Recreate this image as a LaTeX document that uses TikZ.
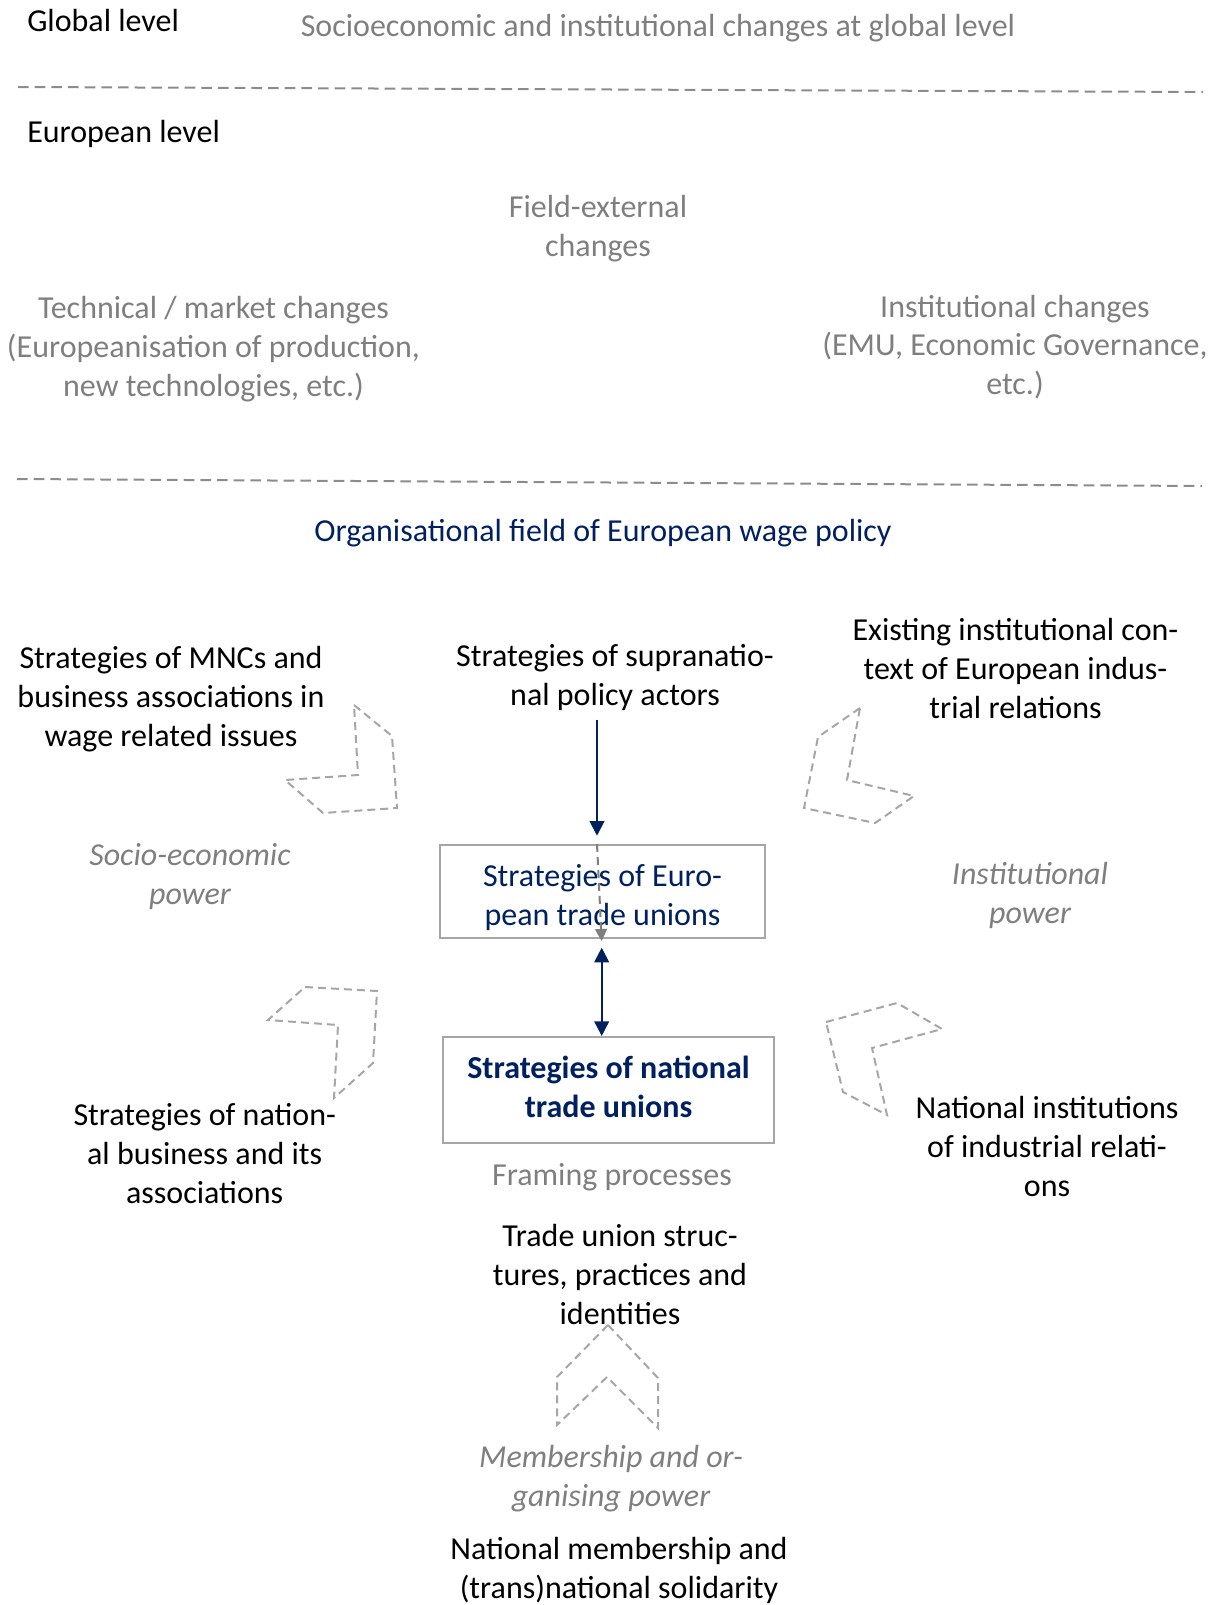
\documentclass[tikz,border=0pt]{standalone}
\usepackage{fontspec}
\setmainfont{Carlito}
\usepackage{tikz}
\usetikzlibrary{calc,positioning,arrows.meta}

\definecolor{navy}{HTML}{002060}
\definecolor{txtgray}{HTML}{7F7F7F}
\definecolor{linegray}{HTML}{A6A6A6}
\definecolor{rulegray}{HTML}{8C8C8C}

\newcommand{\labelfont}{\fontsize{24}{29.2}\selectfont}

\begin{document}
\begin{tikzpicture}[x=0.75pt, y=-0.75pt,
    lbl/.style={inner sep=0pt, align=center, font=\labelfont,
        execute at begin node=\strut, execute at end node=\strut},
    lvl/.style={lbl, anchor=west, text=black},
    ext/.style={lbl, text=txtgray, yshift=-3.75pt},
    actor/.style={lbl, text=black, yshift=-3.75pt},
    power/.style={lbl, text=txtgray, font=\labelfont\itshape, yshift=-3.75pt},
    tubox/.style={lbl, draw=linegray, line width=1.5pt, text=navy},
    rule/.style={draw=rulegray, line width=1.5pt, dash pattern=on 8pt off 4.5pt},
    chev/.style={draw=linegray, line width=1.5pt, dash pattern=on 6pt off 3.75pt},
    navyarr/.style={draw=navy, line width=1.5pt, -{Triangle[width=11pt,length=11pt]}},
    grayarr/.style={draw=txtgray, line width=1.5pt, dash pattern=on 6pt off 3.75pt,
        -{Triangle[width=9pt,length=9pt]}}]
    \useasboundingbox (0,0) rectangle (1217,1605);

    % Levels
    \node[lvl] (global) at (27,24) {Global level};
    \node[ext] (globchg) at (658,23.6) {Socioeconomic and institutional changes at global level};
    \draw[rule] (18,87) -- (1203,92);
    \node[lvl] (europe) at (27,135) {European level};

    % Field-external changes
    \node[ext] (fieldext) at (598,227) {Field-external\\changes};
    \node[ext] (techchg) at (213.5,347.5) {Technical / market changes\\(Europeanisation of production,\\new technologies, etc.)};
    \node[ext] (instchg) at (1015,345.7) {Institutional changes\\(EMU, Economic Governance,\\etc.)};
    \draw[rule] (17,479) -- (1202,486);

    % Organisational field
    \node[lbl, text=navy] (orgfield) at (603,533.7) {Organisational field of European wage policy};

    % Actors and contexts
    \node[actor] (mnc) at (171,697) {Strategies of MNCs and\\business associations in\\wage related issues};
    \node[actor] (supra) at (615,676) {Strategies of supranatio-\\nal policy actors};
    \node[actor] (existing) at (1015.5,669) {Existing institutional con-\\text of European indus-\\trial relations};
    \node[power] (socpow) at (190,875) {Socio-economic\\power};
    \node[power] (instpow) at (1030,893.6) {Institutional\\power};
    \node[actor] (natbus) at (204.7,1154) {Strategies of nation-\\al business and its\\associations};
    \node[actor] (natinst) at (1047,1147) {National institutions\\of industrial relati-\\ons};

    % Trade union boxes
    \node[tubox, minimum width=243.75pt, minimum height=69.75pt,
        execute at begin node={\rule{0pt}{59.3pt}}] (eubox) at (602.5,891.5) {Strategies of Euro-\\pean trade unions};
    \node[tubox, minimum width=248.25pt, minimum height=79.5pt, font=\labelfont\bfseries,
        execute at begin node={\rule{0pt}{50.1pt}}] (natbox) at (608.5,1090) {Strategies of national\\trade unions};
    \node[ext, below=7pt of natbox, xshift=2.6pt] (framing) {Framing processes};

    % Trade union resources
    \node[actor] (tustruct) at (620,1275) {Trade union struc-\\tures, practices and\\identities};
    \node[power] (mempow) at (611,1477) {Membership and or-\\ganising power};
    \node[actor] (natmem) at (619,1569) {National membership and\\(trans)national solidarity};

    % Connections
    \coordinate (arrx) at (597,0);
    \draw[navyarr, shorten <=1.5pt, shorten >=6.2pt] (supra.south -| arrx) -- (eubox.north -| arrx);
    \draw[grayarr] (eubox.north -| arrx) -- ([xshift=3.5pt, yshift=-1.5pt]eubox.south -| arrx);
    \draw[navyarr, {Triangle[width=11pt,length=11pt]}-{Triangle[width=11pt,length=11pt]}, shorten <=6.5pt]
        ([xshift=-0.6pt]eubox.south) -- ([xshift=-0.6pt]eubox.south |- natbox.north);

    % Power chevrons
    \draw[chev] (354,705) -- (392,736) -- (397,808) -- (323,813) -- (285,780) -- (358,775) -- cycle;
    \draw[chev] (305,987) -- (377,991) -- (373,1063) -- (334,1098) -- (338,1025) -- (268,1020) -- cycle;
    \draw[chev] (860,708) -- (818,737) -- (804,808) -- (875,823) -- (914,796) -- (847,780) -- cycle;
    \draw[chev] (826,1022) -- (897,1003) -- (942,1029) -- (872,1048) -- (887,1115) -- (843,1092) -- cycle;
    \draw[chev] (608,1325) -- (658,1378) -- (658,1428) -- (607,1377) -- (557,1425) -- (557,1377) -- cycle;
\end{tikzpicture}
\end{document}
